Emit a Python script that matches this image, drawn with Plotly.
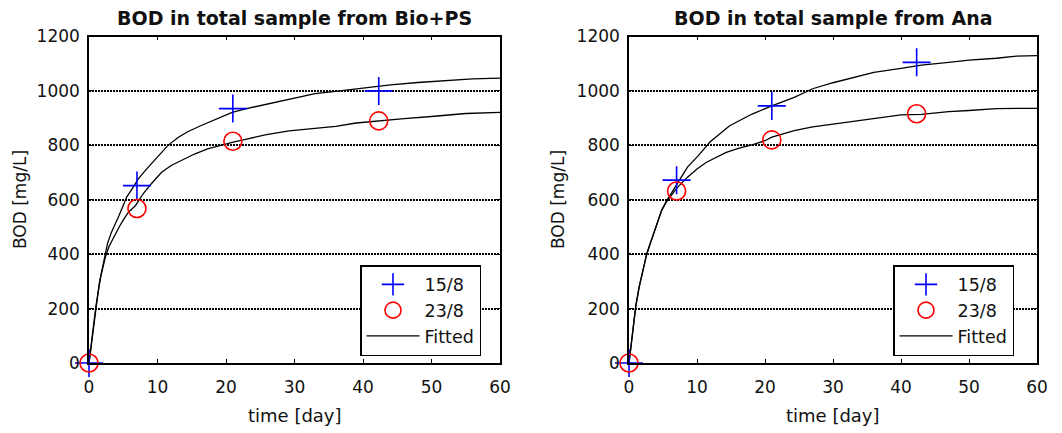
import plotly.graph_objects as go

# ---------------- data ----------------
titles = ["BOD in total sample from Bio+PS", "BOD in total sample from Ana"]
series_names = ["15/8", "23/8", "Fitted"]

# measured points (time [day], BOD [mg/L])
t_meas = [0, 7, 21, 42.3]
bio_158 = [0, 652, 935, 1000]
bio_238 = [0, 568, 815, 890]
ana_158 = [0, 672, 945, 1105]
ana_238 = [0, 632, 820, 916]

# fitted curves
bio_fit158_t = [0, 0.5, 1, 1.5, 2.2, 2.7, 3.2, 3.9, 4.4, 5.1, 5.5, 6.3, 7.2, 8.2, 9.1, 10.6, 11.5, 13, 14.4,
                16.3, 18.2, 20.9, 23, 25.9, 29.2, 33, 36, 40, 44, 48, 52, 56, 60]
bio_fit158_v = [0, 105, 207, 293, 378, 439, 476, 512, 543, 585, 610, 640, 677, 707, 732, 774, 799, 829, 850,
                872, 893, 921, 935, 951, 970, 990, 998, 1010, 1022, 1031, 1038, 1044, 1047]
bio_fit238_t = [0, 0.5, 1, 1.7, 2.4, 2.9, 3.6, 4.4, 5.1, 5.8, 6.8, 7.9, 9.1, 10.6, 12, 13.4, 15.4, 17.3, 19.2,
                20.9, 23, 25.9, 29.2, 33, 36, 39, 42, 46, 50, 55, 60]
bio_fit238_v = [0, 105, 207, 317, 390, 427, 463, 500, 530, 555, 579, 622, 659, 701, 726, 744, 768, 787, 801,
                811, 823, 839, 853, 862, 870, 882, 890, 898, 906, 917, 921]
ana_fit158_t = [0, 0.5, 1, 1.5, 2, 2.6, 3, 3.6, 4, 4.8, 5.5, 6.2, 7.4, 8.6, 10.2, 11.9, 14.8, 18.1, 21, 24.3,
                27, 30, 33, 36, 40, 43, 47, 50, 54, 57, 60]
ana_fit158_v = [0, 110, 210, 280, 340, 400, 430, 476, 505, 561, 595, 622, 671, 720, 762, 812, 872, 915, 945, 976,
                1008, 1030, 1050, 1068, 1083, 1095, 1105, 1113, 1120, 1128, 1130]
ana_fit238_t = [0, 0.5, 1, 1.5, 2, 2.6, 3, 3.6, 4, 4.8, 5.5, 6, 7, 8.6, 10, 11.4, 12.9, 14.3, 16.2, 18.1, 20,
                21, 24.3, 27, 30, 33, 36, 40, 43, 47, 50, 54, 60]
ana_fit238_v = [0, 110, 210, 280, 340, 400, 430, 476, 505, 561, 592, 610, 642, 683, 713, 738, 756, 774, 790, 802,
                817, 830, 854, 868, 878, 888, 899, 912, 914, 924, 928, 935, 936]

x_ticks = [0, 10, 20, 30, 40, 50, 60]
y_ticks = [0, 200, 400, 600, 800, 1000, 1200]

# ---------------- figure ----------------
W, H = 1062, 433
FONT = "DejaVu Sans"
fig = go.Figure()

panels = [
    dict(meas=(bio_158, bio_238), fit=((bio_fit158_t, bio_fit158_v), (bio_fit238_t, bio_fit238_v)),
         xa="x", ya="y", legend="legend", dom=(89 / W, 500 / W)),
    dict(meas=(ana_158, ana_238), fit=((ana_fit158_t, ana_fit158_v), (ana_fit238_t, ana_fit238_v)),
         xa="x2", ya="y2", legend="legend2", dom=(629 / W, 1037 / W)),
]

for p in panels:
    for i, (ft, fv) in enumerate(p["fit"]):
        fig.add_trace(go.Scatter(
            x=ft, y=fv, mode="lines", name=series_names[2],
            line=dict(color="black", width=1.3),
            xaxis=p["xa"], yaxis=p["ya"], legend=p["legend"],
            showlegend=(i == 1), legendrank=3, cliponaxis=True))
    fig.add_trace(go.Scatter(
        x=t_meas, y=p["meas"][0], mode="markers", name=series_names[0],
        marker=dict(symbol="cross-thin", size=20, color="blue", line=dict(width=1.6, color="blue")),
        xaxis=p["xa"], yaxis=p["ya"], legend=p["legend"], legendrank=1, cliponaxis=False))
    fig.add_trace(go.Scatter(
        x=t_meas, y=p["meas"][1], mode="markers", name=series_names[1],
        marker=dict(symbol="circle-open", size=18, color="red", line=dict(width=1.6, color="red")),
        xaxis=p["xa"], yaxis=p["ya"], legend=p["legend"], legendrank=2, cliponaxis=False))

ydom = (1 - 363 / H, 1 - 36.5 / H)
axis_common = dict(
    showline=True, linecolor="black", linewidth=1.5, mirror="ticks",
    ticks="inside", ticklen=4, tickwidth=1, tickcolor="black", automargin=False,
    zeroline=False, tickfont=dict(family=FONT, size=17, color="#111"),
)
for k, p in enumerate(panels):
    sfx = "" if k == 0 else "2"
    fig.update_layout(**{
        "xaxis" + sfx: dict(axis_common, domain=list(p["dom"]), range=[0, 60], tickvals=x_ticks,
                            showgrid=False, anchor="y" + sfx, ticklabelstandoff=8),
        "yaxis" + sfx: dict(axis_common, domain=list(ydom), range=[0, 1200], tickvals=y_ticks,
                            showgrid=True, gridcolor="black", gridwidth=1.6, griddash="2px,1px",
                            anchor="x" + sfx, ticklabelstandoff=4),
    })

annotations = []
for k, p in enumerate(panels):
    cx = (p["dom"][0] + p["dom"][1]) / 2
    annotations.append(dict(text="<b>" + titles[k] + "</b>", x=cx, y=1 - 18 / H, xref="paper", yref="paper",
                            showarrow=False, font=dict(family=FONT, size=19, color="#111"),
                            xanchor="center", yanchor="middle"))
    annotations.append(dict(text="time [day]", x=cx, y=1 - 415 / H, xref="paper", yref="paper",
                            showarrow=False, font=dict(family=FONT, size=18, color="#111"),
                            xanchor="center", yanchor="middle"))
    lx = 20 / W if k == 0 else 558 / W
    annotations.append(dict(text="BOD [mg/L]", x=lx, y=1 - 200 / H, xref="paper", yref="paper",
                            showarrow=False, textangle=-90, font=dict(family=FONT, size=17, color="#111"),
                            xanchor="center", yanchor="middle"))

legend_common = dict(bgcolor="white", bordercolor="black", borderwidth=1.5,
                     font=dict(family=FONT, size=17.5, color="#111"),
                     xanchor="left", yanchor="top", itemwidth=53, tracegroupgap=0,
                     entrywidth=70, entrywidthmode="pixels")
fig.update_layout(
    width=W, height=H, margin=dict(l=0, r=0, t=0, b=0, autoexpand=False),
    paper_bgcolor="white", plot_bgcolor="white",
    annotations=annotations,
    legend=dict(legend_common, x=360 / W, y=1 - 265 / H),
    legend2=dict(legend_common, x=893 / W, y=1 - 265 / H),
)

fig.write_html("out.html", config={"displayModeBar": False},
               post_script="document.body.style.margin='0px';document.body.style.overflow='hidden';")
